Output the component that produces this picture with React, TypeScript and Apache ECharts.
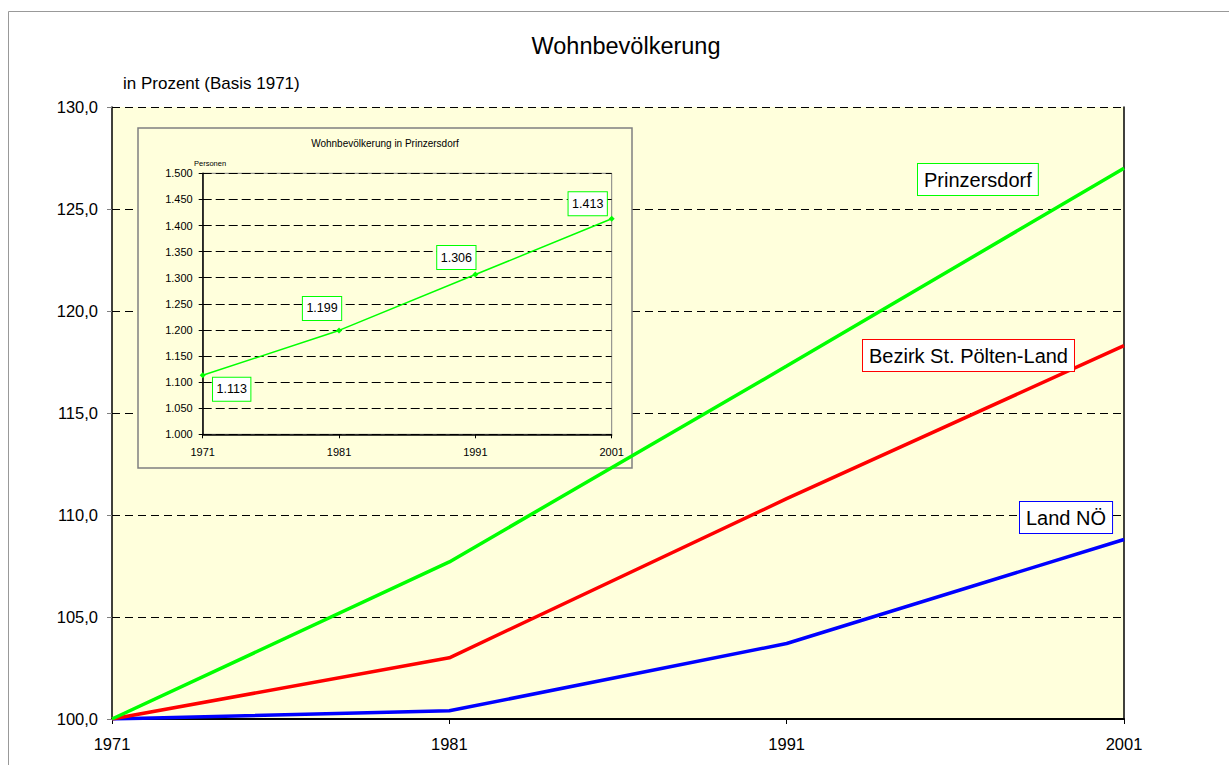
import React, { useEffect, useRef } from "react";
import * as echarts from "echarts";

const years = ["1971", "1981", "1991", "2001"];
const prinzersdorfPct = [100, 107.7, 117.3, 127.0];
const bezirkPct = [100, 103.0, 110.8, 118.3];
const landPct = [100, 100.4, 103.7, 108.8];
const insetPersons = [1113, 1199, 1306, 1413];
const yTop = 130;

const FONT = "'Liberation Sans', Arial, sans-serif";
const YELLOW = "#FFFFDC";
const GREEN = "#00FF00";
const RED = "#FF0000";
const BLUE = "#0000FF";

const fmtThousands = (v: number) => {
  const s = String(Math.round(v));
  return s.length > 3 ? s.slice(0, s.length - 3) + "." + s.slice(s.length - 3) : s;
};

export default function App() {
  const ref = useRef<HTMLDivElement>(null);
  useEffect(() => {
    if (!ref.current) return;
    const chart = echarts.init(ref.current, null, { renderer: "svg" });
    const insetOffsets = [
      [29, 14],
      [-17, -22],
      [-19, -17],
      [-24, -15],
    ];
    const boxLabel = (text: string, x: number, y: number, color: string) => ({
      type: "text",
      x,
      y,
      z: 50,
      style: {
        text,
        font: `20px ${FONT}`,
        fill: "#000",
        align: "left",
        verticalAlign: "top",
        backgroundColor: "#fff",
        borderColor: color,
        borderWidth: 1,
        padding: [5, 6, 5, 6],
        lineHeight: 21,
      },
    });
    chart.setOption({
      animation: false,
      textStyle: { fontFamily: FONT },
      graphic: [
        {
          type: "rect",
          shape: { x: 8.5, y: 11.5, width: 1300, height: 900 },
          style: { fill: "none", stroke: "#999", lineWidth: 1 },
          z: 0,
          silent: true,
        },
        {
          type: "text",
          x: 626,
          y: 46,
          style: {
            text: "Wohnbevölkerung",
            font: `23.5px ${FONT}`,
            fill: "#000",
            align: "center",
            verticalAlign: "middle",
          },
        },
        {
          type: "text",
          x: 123,
          y: 83,
          style: {
            text: "in Prozent (Basis 1971)",
            font: `17px ${FONT}`,
            fill: "#000",
            align: "left",
            verticalAlign: "middle",
          },
        },
        {
          type: "rect",
          shape: { x: 138, y: 128, width: 494, height: 340 },
          style: { fill: YELLOW, stroke: "#808080", lineWidth: 1.5 },
          z: 1,
          silent: true,
        },
        {
          type: "text",
          x: 385,
          y: 143,
          z: 5,
          style: {
            text: "Wohnbevölkerung in Prinzersdorf",
            font: `10px ${FONT}`,
            fill: "#000",
            align: "center",
            verticalAlign: "middle",
          },
        },
        {
          type: "text",
          x: 194,
          y: 163,
          z: 5,
          style: {
            text: "Personen",
            font: `7.5px ${FONT}`,
            fill: "#000",
            align: "left",
            verticalAlign: "middle",
          },
        },
        boxLabel("Prinzersdorf", 918, 164, GREEN),
        boxLabel("Bezirk St. Pölten-Land", 863, 340, RED),
        boxLabel("Land NÖ", 1020, 502, BLUE),
      ],
      grid: [
        {
          left: 112,
          top: 107,
          right: 105,
          bottom: 46,
          show: true,
          backgroundColor: YELLOW,
          borderColor: "transparent",
          borderWidth: 0,
        },
        {
          left: 202.7,
          top: 173.3,
          right: 617.3,
          bottom: 330.7,
          show: true,
          backgroundColor: "transparent",
          borderColor: "#808080",
          borderWidth: 1,
          z: 3,
        },
      ],
      xAxis: [
        {
          type: "category",
          gridIndex: 0,
          data: years,
          boundaryGap: false,
          axisLine: { show: true, onZero: false, lineStyle: { color: "#000", width: 2 } },
          axisTick: { show: true, length: 5, lineStyle: { color: "#000" } },
          axisLabel: { color: "#000", fontSize: 16.5, margin: 16 },
          splitLine: { show: false },
          z: 0,
        },
        {
          type: "category",
          gridIndex: 1,
          data: years,
          boundaryGap: false,
          axisLine: { show: true, onZero: false, lineStyle: { color: "#000", width: 1.5 } },
          axisTick: { show: true, length: 4, lineStyle: { color: "#000" } },
          axisLabel: { color: "#000", fontSize: 11, margin: 12 },
          splitLine: { show: false },
          z: 3,
        },
      ],
      yAxis: [
        {
          type: "value",
          gridIndex: 0,
          position: "left",
          min: 100,
          max: 130,
          interval: 5,
          axisLine: { show: true, onZero: false, lineStyle: { color: "#000", width: 1.5 } },
          axisTick: { show: true, length: 5, lineStyle: { color: "#808080" } },
          axisLabel: {
            color: "#000",
            fontSize: 16.5,
            margin: 14,
            formatter: (v: number) => v.toFixed(1).replace(".", ","),
          },
          splitLine: {
            show: true,
            showMaxLine: false,
            lineStyle: { color: "#000", type: [8, 5], width: 1 },
          },
          z: 0,
        },
        {
          type: "value",
          gridIndex: 0,
          position: "right",
          min: 100,
          max: 130,
          interval: 5,
          axisLine: { show: true, onZero: false, lineStyle: { color: "#000", width: 1.5 } },
          axisTick: { show: false },
          axisLabel: { show: false },
          splitLine: { show: false },
          z: 0,
        },
        {
          type: "value",
          gridIndex: 1,
          min: 1000,
          max: 1500,
          interval: 50,
          axisLine: { show: true, onZero: false, lineStyle: { color: "#000", width: 1.5 } },
          axisTick: { show: true, length: 4, lineStyle: { color: "#000" } },
          axisLabel: {
            color: "#000",
            fontSize: 11,
            margin: 10,
            formatter: (v: number) => fmtThousands(v),
          },
          splitLine: {
            show: true,
            lineStyle: { color: "#000", type: [9, 4], width: 1 },
          },
          z: 3,
        },
      ],
      series: [
        {
          name: "Land NÖ",
          type: "line",
          xAxisIndex: 0,
          yAxisIndex: 0,
          data: landPct,
          showSymbol: false,
          symbol: "none",
          lineStyle: { color: BLUE, width: 3.5 },
          z: 10,
          markLine: {
            silent: true,
            symbol: "none",
            label: { show: false },
            lineStyle: { color: "#000", type: [8, 5], width: 1 },
            data: [{ yAxis: yTop }],
          },
        },
        {
          name: "Bezirk St. Pölten-Land",
          type: "line",
          xAxisIndex: 0,
          yAxisIndex: 0,
          data: bezirkPct,
          showSymbol: false,
          symbol: "none",
          lineStyle: { color: RED, width: 3.5 },
          z: 11,
        },
        {
          name: "Prinzersdorf",
          type: "line",
          xAxisIndex: 0,
          yAxisIndex: 0,
          data: prinzersdorfPct,
          showSymbol: false,
          symbol: "none",
          lineStyle: { color: GREEN, width: 3.5 },
          z: 12,
        },
        {
          name: "Wohnbevölkerung in Prinzersdorf",
          type: "line",
          xAxisIndex: 1,
          yAxisIndex: 2,
          data: insetPersons.map((v, i) => ({
            value: v,
            label: { offset: insetOffsets[i] },
          })),
          symbol: "diamond",
          symbolSize: 6,
          itemStyle: { color: GREEN },
          lineStyle: { color: GREEN, width: 1.5 },
          label: {
            show: true,
            position: "inside",
            formatter: (p: any) => fmtThousands(p.value),
            color: "#000",
            fontSize: 12.5,
            lineHeight: 14,
            backgroundColor: "#fff",
            borderColor: GREEN,
            borderWidth: 1,
            padding: [4.5, 3.5, 4.5, 3.5],
            align: "center",
            verticalAlign: "middle",
          },
          z: 5,
        },
      ],
    });
    return () => chart.dispose();
  }, []);
  return (
    <div
      ref={ref}
      style={{ position: "fixed", left: 0, top: 0, width: 1229, height: 765, background: "#fff" }}
    />
  );
}
